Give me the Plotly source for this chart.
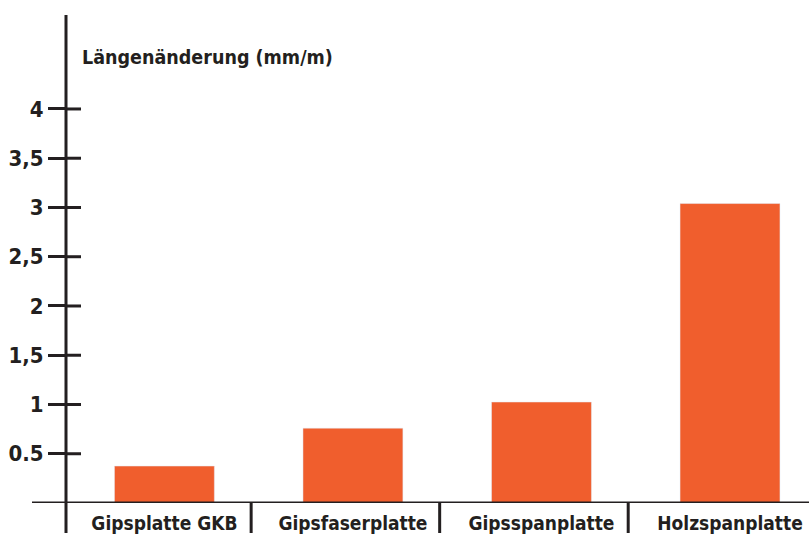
import plotly.graph_objects as go

categories = ["Gipsplatte GKB", "Gipsfaserplatte", "Gipsspanplatte", "Holzspanplatte"]
values = [0.375, 0.76, 1.025, 3.04]
y_tickvals = [0.5, 1, 1.5, 2, 2.5, 3, 3.5, 4]
y_ticktext = ["0.5", "1", "1,5", "2", "2,5", "3", "3,5", "4"]
y_title = "Längenänderung (mm/m)"

DARK = "#231f20"
BAR = "#f05e2d"
FONT = "DejaVu Sans Condensed, Liberation Sans, sans-serif"
W, H = 809, 536
L, R, T, B = 66, 0, 15, 33
pw, ph = W - L - R, H - T - B

xs = list(range(len(categories)))

fig = go.Figure()
fig.add_trace(go.Bar(x=xs, y=values, marker_color=BAR, width=0.53, hoverinfo="skip"))

shapes = []
# y axis line extending below the x axis
shapes.append(dict(type="line", xref="paper", yref="paper", x0=0, x1=0,
                   y0=-30 / ph, y1=1, line=dict(color=DARK, width=3)))
# x axis line
shapes.append(dict(type="line", xref="paper", yref="y", x0=-34 / pw, x1=1,
                   y0=0, y1=0, line=dict(color=DARK, width=3)))
# inner parts of the crossing ticks
for v in y_tickvals:
    shapes.append(dict(type="line", xref="paper", yref="y", x0=0, x1=15 / pw,
                       y0=v, y1=v, line=dict(color=DARK, width=3)))
# category separators below the axis
for i in range(len(categories) - 1):
    shapes.append(dict(type="line", xref="x", yref="paper", x0=i + 0.46, x1=i + 0.46,
                       y0=0, y1=-30 / ph, line=dict(color=DARK, width=3)))

fig.update_layout(
    width=W, height=H,
    margin=dict(l=L, r=R, t=T, b=B, autoexpand=False),
    paper_bgcolor="white", plot_bgcolor="white",
    showlegend=False,
    shapes=shapes,
    xaxis=dict(range=[-0.522, 3.419], tickvals=xs, ticktext=categories,
               showgrid=False, zeroline=False, showline=False, ticks="",
               automargin=False, ticklabelstandoff=7,
               tickfont=dict(family=FONT, size=19, color=DARK, weight="bold"),
               fixedrange=True),
    yaxis=dict(range=[0, 4.954], tickvals=y_tickvals, ticktext=y_ticktext,
               showgrid=False, zeroline=False, showline=False, automargin=False,
               ticks="outside", ticklen=17, tickwidth=3, tickcolor=DARK,
               tickfont=dict(family=FONT, size=22, color=DARK, weight="bold"),
               fixedrange=True),
    annotations=[dict(text=y_title, xref="paper", yref="paper",
                      x=(80 - L) / pw, y=(503 - 57) / ph, xanchor="left", yanchor="middle",
                      showarrow=False,
                      font=dict(family=FONT, size=19.5, color=DARK, weight="bold"))],
    bargap=0.47,
)
fig.write_html("out.html", config={"displayModeBar": False},
               post_script="document.body.style.margin='0';document.body.style.overflow='hidden';")
